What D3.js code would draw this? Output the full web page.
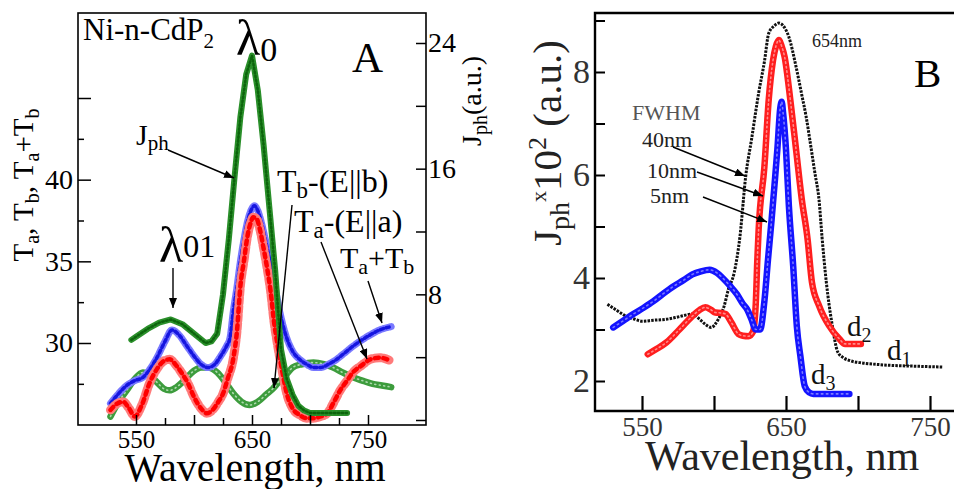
<!DOCTYPE html>
<html>
<head>
<meta charset="utf-8">
<script src="https://cdn.jsdelivr.net/npm/d3@7"></script>
<style>
  body { margin: 0; background: #fff; }
  text { font-family: "Liberation Serif", "Times New Roman", serif; }
</style>
</head>
<body>
<svg id="chart" width="954" height="489"></svg>
<script>
// ---- panel A data (wavelength in nm) ----
// photocurrent Jph, right axis
const wlJph = [546, 550, 560, 570, 580, 590, 600, 610, 615, 620, 625, 630, 635, 640, 645, 650, 655, 660, 665, 670, 675, 680, 685, 690, 695, 700, 710, 720, 732];
const jph   = [5.1, 5.3, 5.8, 6.2, 6.4, 6.1, 5.5, 4.9, 5.0, 5.5, 8.0, 11.5, 15.5, 19.3, 22.0, 23.2, 21.0, 17.5, 13.5, 9.5, 4.5, 2.6, 1.6, 0.9, 0.6, 0.45, 0.45, 0.45, 0.45];

// Ta+Tb (blue), left axis
const wlSum = [528, 535, 542, 549, 556, 562, 568, 575, 581, 587, 594, 600, 606, 612, 618, 623, 628, 631, 634, 637, 640, 643, 646, 649, 652, 655, 658, 661, 664, 668, 671, 674, 677, 680, 685, 691, 697, 703, 709, 716, 723, 730, 737, 745, 752, 760, 770];
const tSum  = [26.3, 26.9, 27.4, 27.7, 27.9, 28.4, 29.1, 30.1, 30.8, 30.5, 29.8, 29.2, 28.7, 28.5, 28.7, 29.2, 29.8, 30.3, 32.0, 33.4, 35.0, 36.3, 37.4, 38.1, 38.4, 38.1, 37.4, 36.5, 35.5, 34.2, 33.0, 31.9, 31.0, 30.3, 29.5, 29.0, 28.7, 28.5, 28.5, 28.7, 29.0, 29.4, 29.8, 30.2, 30.5, 30.8, 31.0];

// Ta (red stars), left axis
const wlTa = [528, 534, 539, 544, 549, 555, 562, 568, 574, 579, 585, 590, 595, 600, 606, 611, 616, 621, 625, 629, 634, 637, 640, 643, 646, 649, 651, 654, 657, 660, 663, 666, 669, 672, 676, 680, 685, 691, 697, 703, 709, 715, 720, 726, 732, 737, 744, 752, 760, 770];
const ta   = [25.9, 26.3, 26.4, 26.0, 25.5, 26.2, 27.6, 28.4, 28.9, 29.0, 28.6, 28.1, 27.5, 26.7, 26.0, 25.7, 25.9, 26.4, 26.9, 27.8, 29.1, 30.7, 33.5, 35.0, 36.5, 37.4, 37.7, 37.6, 36.9, 35.8, 34.6, 33.2, 31.3, 29.9, 28.3, 26.9, 26.0, 25.6, 25.4, 25.4, 25.5, 25.7, 26.3, 27.1, 27.7, 28.2, 28.6, 29.0, 29.1, 28.9];

// Tb (green triangles), left axis
const wlTb = [528, 535, 542, 549, 556, 562, 568, 574, 579, 585, 590, 594, 600, 606, 612, 620, 627, 634, 641, 648, 655, 663, 668, 674, 680, 685, 693, 703, 712, 720, 728, 737, 745, 754, 762, 770];
const tb   = [25.5, 26.4, 27.1, 27.8, 28.2, 28.0, 27.6, 27.2, 27.1, 27.3, 27.6, 27.9, 28.3, 28.5, 28.5, 28.2, 27.6, 26.9, 26.4, 26.2, 26.4, 26.9, 27.2, 27.7, 28.1, 28.5, 28.7, 28.8, 28.7, 28.5, 28.2, 27.9, 27.7, 27.5, 27.4, 27.3];

// ---- panel B data ----
const wlD1 = [526, 532, 539, 545, 550, 558, 567, 576, 585, 590, 594, 598, 603, 607, 610, 614, 618, 622, 626, 631, 635, 638, 642, 645, 648, 652, 657, 661, 664, 667, 670, 673, 675, 678, 682, 686, 690, 695, 703, 714, 725, 737, 748, 759];
const d1   = [3.49, 3.38, 3.26, 3.2, 3.16, 3.18, 3.2, 3.25, 3.3, 3.2, 3.1, 3.04, 3.2, 3.45, 3.78, 4.1, 4.8, 5.97, 6.68, 7.59, 8.2, 8.75, 8.9, 8.95, 8.9, 8.68, 8.1, 7.55, 7.13, 6.6, 6.05, 5.5, 4.8, 3.92, 3.1, 2.56, 2.45, 2.39, 2.35, 2.32, 2.3, 2.29, 2.28, 2.27];

const wlD2 = [554, 560, 567, 576, 585, 590, 594, 598, 601, 605, 608, 612, 617, 620, 624, 627, 629, 630, 631, 635, 638, 641, 643, 645, 647, 649, 653, 657, 661, 665, 668, 673, 680, 687, 691, 696, 702];
const d2   = [2.52, 2.62, 2.75, 3.0, 3.26, 3.38, 3.43, 3.38, 3.33, 3.32, 3.3, 3.14, 2.91, 2.88, 2.87, 2.95, 3.5, 4.3, 4.94, 6.16, 7.46, 8.23, 8.5, 8.62, 8.5, 8.3, 7.46, 6.49, 5.52, 4.75, 3.92, 3.46, 3.07, 2.82, 2.72, 2.72, 2.72];

const wlD3 = [530, 537, 544, 551, 558, 565, 572, 579, 585, 591, 597, 602, 606, 611, 616, 620, 623, 626, 629, 632, 635, 637.5, 640, 642, 644, 646, 647, 648, 650, 652, 655, 657.5, 660, 663, 666, 669, 680, 694];
const d3v  = [3.04, 3.17, 3.3, 3.42, 3.55, 3.7, 3.84, 3.96, 4.07, 4.13, 4.16, 4.1, 4.0, 3.85, 3.68, 3.5, 3.39, 3.2, 3.0, 3.0, 3.55, 4.36, 5.13, 5.8, 6.5, 7.3, 7.42, 7.2, 6.49, 5.4, 4.23, 3.07, 2.48, 1.9, 1.78, 1.75, 1.75, 1.75];

// tick values
const xTicksA = [550, 575, 600, 625, 650, 675, 700, 725, 750];
const xLabelsA = [550, 650, 750];
const yTicksAL = [27.5, 30, 32.5, 35, 37.5, 40, 42.5, 45];
const yLabelsAL = [30, 35, 40];
const yTicksAR = [0, 4, 8, 12, 16, 20, 24];
const yLabelsAR = [8, 16, 24];
const xTicksB = [550, 600, 650, 700, 750];
const xLabelsB = [550, 650, 750];
const yTicksB = [2, 3, 4, 5, 6, 7, 8, 9];
const yLabelsB = [2, 4, 6, 8];

const svg = d3.select("#chart");

// scales
const xA = d3.scaleLinear().domain([500, 800]).range([78, 426]);
const yAL = d3.scaleLinear().domain([30, 45]).range([343, 98]);
const yAR = d3.scaleLinear().domain([0, 24]).range([420, 43]);
const xB = d3.scaleLinear().domain([550, 750]).range([642, 930]);
const yB = d3.scaleLinear().domain([2, 8]).range([381, 72]);

// marker for arrows
const defs = svg.append("defs");
defs.append("marker")
    .attr("id", "arr")
    .attr("viewBox", "0 0 10 8")
    .attr("refX", 10).attr("refY", 4)
    .attr("markerWidth", 10).attr("markerHeight", 8)
    .attr("markerUnits", "userSpaceOnUse")
    .attr("orient", "auto")
    .append("path").attr("d", "M0,0 L10,4 L0,8 z").attr("fill", "#000");

function drawSeries(wl, vals, x, y, layers, curve) {
    const pts = d3.zip(wl, vals);
    const line = d3.line().x(d => x(d[0])).y(d => y(d[1])).curve(curve || d3.curveMonotoneX);
    layers.forEach(l => {
        svg.append("path")
            .datum(pts)
            .attr("d", line)
            .attr("fill", "none")
            .attr("stroke", l.color)
            .attr("stroke-width", l.width)
            .attr("stroke-dasharray", l.dash || null)
            .attr("stroke-linecap", l.cap || "round")
            .attr("stroke-linejoin", "round")
            .attr("opacity", l.opacity || 1);
    });
}

function styleAxis(g, size, color) {
    g.select(".domain").remove();
    g.selectAll("text").attr("font-family", "Liberation Serif, serif").attr("font-size", size).attr("fill", color || "#000");
    g.selectAll("line").attr("stroke", "#000").attr("stroke-width", 1.5);
}

// ---------------- Panel A ----------------
// series
drawSeries(wlTb, tb, xA, yAL, [
    { color: "#3d9c3d", width: 6.5 },
    { color: "#c8e8c8", width: 1.6, dash: "1 3.5", opacity: 0.8 }
]);
drawSeries(wlSum, tSum, xA, yAL, [
    { color: "#7878ff", width: 7, dash: "5 1.5" },
    { color: "#1515e0", width: 3.5, dash: "3 3" }
]);
drawSeries(wlTa, ta, xA, yAL, [
    { color: "#ff7a7a", width: 9, dash: "6 2.5" },
    { color: "#ff0000", width: 4.5, dash: "4 4.5" }
]);
drawSeries(wlJph, jph, xA, yAR, [
    { color: "#2a8f2a", width: 6 },
    { color: "#0c640c", width: 2.5, dash: "1.5 2.5" }
], d3.curveLinear);

// frame
svg.append("rect")
    .attr("x", xA.range()[0]).attr("y", 13)
    .attr("width", xA.range()[1] - xA.range()[0]).attr("height", 412)
    .attr("fill", "none").attr("stroke", "#000").attr("stroke-width", 1.6);

// axes
const gAL = svg.append("g").attr("transform", "translate(78,0)")
    .call(d3.axisLeft(yAL).tickValues(yTicksAL).tickSize(-13).tickPadding(5)
        .tickFormat(d => yLabelsAL.includes(d) ? d : ""));
styleAxis(gAL, 28);
gAL.selectAll(".tick line").attr("x2", d => d % 5 === 0 ? 13 : 6);

const gAR = svg.append("g").attr("transform", "translate(426,0)")
    .call(d3.axisRight(yAR).tickValues(yTicksAR).tickSize(-10).tickPadding(2)
        .tickFormat(d => yLabelsAR.includes(d) ? d : ""));
styleAxis(gAR, 28);

const gAB = svg.append("g").attr("transform", "translate(0,425)")
    .call(d3.axisBottom(xA).tickValues(xTicksA).tickSize(-9).tickPadding(5)
        .tickFormat(d => xLabelsA.includes(d) ? d : ""));
styleAxis(gAB, 25);
gAB.selectAll(".tick line").attr("y2", d => d % 50 === 0 ? -10 : -7);

// axis titles A
svg.append("text").attr("x", 255).attr("y", 481).attr("text-anchor", "middle")
    .attr("font-size", 40).text("Wavelength, nm");

const ylA = svg.append("text").attr("transform", "translate(33,185) rotate(-90)")
    .attr("text-anchor", "middle").attr("font-size", 29);
ylA.append("tspan").text("T");
ylA.append("tspan").attr("font-size", 20).attr("dy", 6).text("a");
ylA.append("tspan").attr("dy", -6).text(", T");
ylA.append("tspan").attr("font-size", 20).attr("dy", 6).text("b");
ylA.append("tspan").attr("dy", -6).text(", T");
ylA.append("tspan").attr("font-size", 20).attr("dy", 6).text("a");
ylA.append("tspan").attr("dy", -6).text("+T");
ylA.append("tspan").attr("font-size", 20).attr("dy", 6).text("b");

const yrA = svg.append("text").attr("transform", "translate(481,101) rotate(-90)")
    .attr("text-anchor", "middle").attr("font-size", 28);
yrA.append("tspan").text("J");
yrA.append("tspan").attr("font-size", 20).attr("dy", 6).text("ph");
yrA.append("tspan").attr("dy", -6).text("(a.u.)");

// annotations A
const t1 = svg.append("text").attr("x", 83).attr("y", 40).attr("font-size", 31);
t1.append("tspan").text("Ni-n-CdP");
t1.append("tspan").attr("font-size", 21).attr("dy", 8).text("2");

const l0 = svg.append("text").attr("x", 236).attr("y", 55).attr("font-size", 50);
l0.append("tspan").text("λ");
l0.append("tspan").attr("font-size", 34).attr("dy", 6).text("0");

svg.append("text").attr("x", 352).attr("y", 72).attr("font-size", 43).text("A");

const jl = svg.append("text").attr("x", 136).attr("y", 145).attr("font-size", 30);
jl.append("tspan").text("J");
jl.append("tspan").attr("font-size", 21).attr("dy", 5).text("ph");

const tbl = svg.append("text").attr("x", 277).attr("y", 192).attr("font-size", 32);
tbl.append("tspan").text("T");
tbl.append("tspan").attr("font-size", 23).attr("dy", 6).text("b");
tbl.append("tspan").attr("dy", -6).text("-(E||b)");

const tal = svg.append("text").attr("x", 294).attr("y", 232).attr("font-size", 32);
tal.append("tspan").text("T");
tal.append("tspan").attr("font-size", 23).attr("dy", 6).text("a");
tal.append("tspan").attr("dy", -6).text("-(E||a)");

const tsl = svg.append("text").attr("x", 340).attr("y", 268).attr("font-size", 30);
tsl.append("tspan").text("T");
tsl.append("tspan").attr("font-size", 22).attr("dy", 6).text("a");
tsl.append("tspan").attr("dy", -6).text("+T");
tsl.append("tspan").attr("font-size", 22).attr("dy", 6).text("b");

const l01 = svg.append("text").attr("x", 159).attr("y", 262).attr("font-size", 50);
l01.append("tspan").text("λ");
l01.append("tspan").attr("font-size", 32).attr("dy", -5).text("01");

function arrow(x1, y1, x2, y2, head) {
    svg.append("line").attr("x1", x1).attr("y1", y1).attr("x2", x2).attr("y2", y2)
        .attr("stroke", "#000").attr("stroke-width", 1.4)
        .attr("marker-end", head === false ? null : "url(#arr)");
}
arrow(168, 150, 234, 178);
arrow(292, 205, 274, 388);
arrow(321, 242, 367, 359);
arrow(368, 281, 382, 323);
arrow(173, 268, 173, 308);

// ---------------- Panel B ----------------
drawSeries(wlD1, d1, xB, yB, [
    { color: "#111", width: 3, dash: "2.5 1.2", cap: "butt" }
]);
drawSeries(wlD2, d2, xB, yB, [
    { color: "#ff1e1e", width: 6.5 },
    { color: "#ff8a8a", width: 1.6, dash: "1.5 3" }
]);
drawSeries(wlD3, d3v, xB, yB, [
    { color: "#1414ff", width: 6.5 },
    { color: "#7a7aff", width: 1.6, dash: "1.5 3.5" }
]);

// frame B (right edge runs off the picture)
svg.append("path")
    .attr("d", "M954,13 H595 V411 H954")
    .attr("fill", "none").attr("stroke", "#000").attr("stroke-width", 2.4);

const gBL = svg.append("g").attr("transform", "translate(595,0)")
    .call(d3.axisLeft(yB).tickValues(yTicksB).tickSize(-10).tickPadding(5)
        .tickFormat(d => yLabelsB.includes(d) ? d : ""));
styleAxis(gBL, 34, "#333");
gBL.selectAll(".tick line").attr("stroke-width", 2);

const gBB = svg.append("g").attr("transform", "translate(0,411)")
    .call(d3.axisBottom(xB).tickValues(xTicksB).tickSize(-15).tickPadding(6)
        .tickFormat(d => xLabelsB.includes(d) ? d : ""));
styleAxis(gBB, 27, "#333");
gBB.selectAll(".tick line").attr("stroke-width", 2.2);

svg.append("text").attr("x", 782).attr("y", 470).attr("text-anchor", "middle")
    .attr("font-size", 42).attr("fill", "#222").text("Wavelength, nm");

const ylB = svg.append("text").attr("transform", "translate(561,143) rotate(-90)")
    .attr("text-anchor", "middle").attr("font-size", 41).attr("fill", "#222");
ylB.append("tspan").text("J");
ylB.append("tspan").attr("font-size", 28).attr("dy", 8).text("ph");
ylB.append("tspan").attr("font-size", 22).attr("dy", -23).text("x");
ylB.append("tspan").attr("dy", 15).text("10");
ylB.append("tspan").attr("font-size", 26).attr("dy", -15).text("2");
ylB.append("tspan").attr("dy", 15).text(" (a.u.)");

svg.append("text").attr("x", 812).attr("y", 47).attr("font-size", 18)
    .attr("font-family", "Liberation Sans, Arial, sans-serif").attr("fill", "#222").text("654nm");
svg.append("text").attr("x", 914).attr("y", 87).attr("font-size", 41).text("B");

svg.append("text").attr("x", 632).attr("y", 120).attr("font-size", 22).attr("fill", "#555").text("FWHM");
svg.append("text").attr("x", 642).attr("y", 147).attr("font-size", 22).attr("fill", "#222").text("40nm");
svg.append("text").attr("x", 647).attr("y", 178).attr("font-size", 22).attr("fill", "#222").text("10nm");
svg.append("text").attr("x", 650).attr("y", 203).attr("font-size", 22).attr("fill", "#222").text("5nm");
arrow(673, 147, 745, 176);
arrow(697, 172, 763, 196);
arrow(703, 197, 767, 222);

function dLabel(x, y, sub) {
    const t = svg.append("text").attr("x", x).attr("y", y).attr("font-size", 29).attr("fill", "#111");
    t.append("tspan").text("d");
    t.append("tspan").attr("font-size", 20).attr("dy", 6).text(sub);
}
dLabel(847, 336, "2");
dLabel(887, 360, "1");
dLabel(811, 384, "3");
</script>
</body>
</html>
